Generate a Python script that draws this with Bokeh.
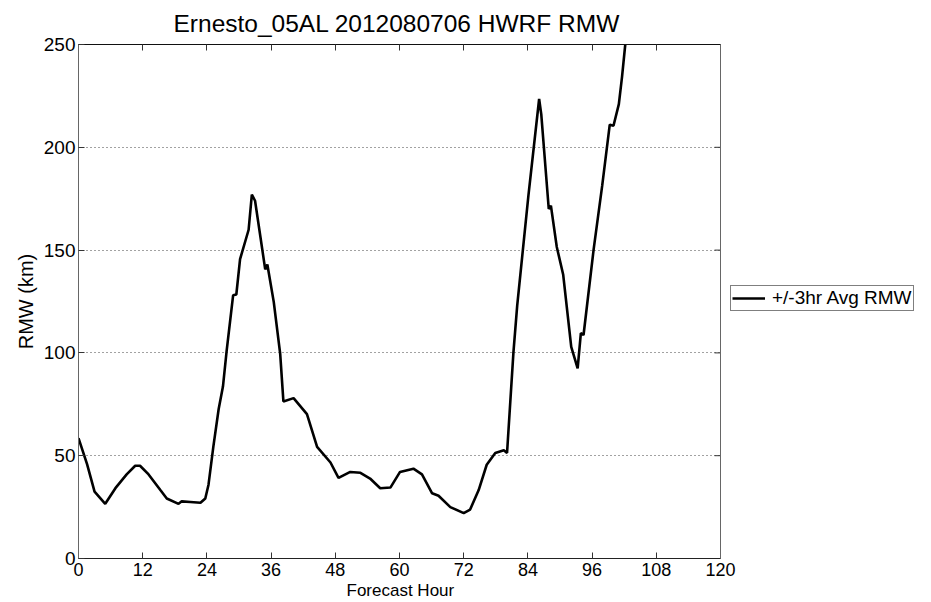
import math
from bokeh.plotting import figure
from bokeh.models import Range1d, LinearAxis, FixedTicker, Legend, LegendItem, Span, Title
from bokeh.embed import file_html
from bokeh.resources import INLINE

# Forecast hour and +/-3hr averaged RMW (km)
hours = [0, 1.6, 3.0, 5.0, 6.9, 9.0, 10.6, 11.5, 13.1, 15.3, 16.5, 18.7, 19.3, 20.9,
         22.8, 23.7, 24.3, 25.2, 26.2, 27.0, 27.7, 28.9, 29.5, 30.2, 31.8, 32.4, 33.0,
         34.0, 34.9, 35.3, 36.5, 37.7, 38.3, 40.2, 42.7, 44.6, 47.1, 48.6, 50.8, 52.7,
         54.5, 56.4, 58.3, 60.1, 62.6, 64.2, 66.1, 67.3, 69.5, 72.0, 73.2, 74.8, 76.3,
         77.9, 79.5, 80.1, 81.3, 82.0, 84.1, 86.1, 86.5, 87.9, 88.3, 89.4, 90.6, 92.1,
         93.3, 93.9, 94.4, 96.3, 97.9, 99.3, 100.0, 101.0, 101.6, 102.2, 103.0]
rmw = [58.5, 45.9, 32.5, 26.6, 34.2, 40.9, 45.1, 45.1, 40.9, 33.3, 29.2, 26.6, 27.8, 27.5,
       27.1, 29.2, 35.9, 54.3, 72.7, 83.6, 101.2, 128.0, 128.4, 145.6, 159.9, 177.0, 174.0,
       156.5, 140.6, 143.0, 124.7, 99.5, 76.4, 78.0, 70.2, 54.3, 46.7, 39.2, 42.1, 41.7,
       38.9, 34.2, 34.5, 42.1, 43.7, 40.9, 31.7, 30.5, 25.0, 22.1, 23.8, 33.3, 45.6,
       51.3, 52.6, 51.3, 100.4, 123.0, 176.6, 223.5, 216.0, 170.0, 171.6, 151.5, 138.0, 102.9,
       92.5, 109.6, 108.7, 150.6, 181.6, 211.0, 210.5, 221.0, 234.4, 250.0, 262.0]

x_ticks = [0, 12, 24, 36, 48, 60, 72, 84, 96, 108, 120]
y_ticks = [0, 50, 100, 150, 200, 250]
x_min, x_max = 0, 120
y_min, y_max = 0, 250

title_text = "Ernesto_05AL 2012080706 HWRF RMW"
x_label = "Forecast Hour"
y_label = "RMW (km)"
series_name = "+/-3hr Avg RMW"

SANS = "Liberation Sans"

# plot box is 642 px wide for 0..120; the frame continues to the right edge
# so that the legend can sit outside the axes box
BOX_W = 642
FRAME_W = 853
x_view_max = x_max * FRAME_W / BOX_W

p = figure(output_backend="svg", toolbar_location=None,
           frame_width=FRAME_W, frame_height=514,
           min_border_left=78, min_border_right=0,
           min_border_top=44, min_border_bottom=44,
           x_range=Range1d(x_min, x_view_max), y_range=Range1d(y_min, y_max),
           x_axis_location=None, y_axis_location=None)
p.outline_line_color = None
p.background_fill_color = "white"
p.border_fill_color = "white"

p.title.text = title_text
p.title.align = "left"
p.title.offset = 95
p.title.text_font = SANS
p.title.text_font_size = "24.5px"
p.title.text_font_style = "normal"
p.title.text_color = "black"
p.title.standoff = 15

def style_axis(ax, ticks, show_labels, line_color):
    ax.ticker = FixedTicker(ticks=ticks)
    ax.bounds = (ticks[0], ticks[-1])
    ax.major_tick_in = 6
    ax.major_tick_out = 0
    ax.minor_tick_in = 0
    ax.minor_tick_out = 0
    ax.axis_line_color = line_color
    ax.major_tick_line_color = "#333333"
    ax.major_label_text_font = SANS
    ax.major_label_text_font_size = "18px"
    ax.major_label_text_color = "black"
    ax.axis_label_text_font = SANS
    ax.axis_label_text_font_size = "18px"
    ax.axis_label_text_font_style = "normal"
    ax.axis_label_text_color = "black"
    if not show_labels:
        ax.major_label_overrides = {t: "" for t in ticks}
        ax.major_label_standoff = 0
        ax.major_label_text_font_size = "8px"

bottom = LinearAxis()
style_axis(bottom, x_ticks, True, "#222222")
bottom.major_label_standoff = 4
p.add_layout(bottom, "below")

# x-axis label, centred under the 0..120 box
p.add_layout(Title(text=x_label, align="left", offset=268, standoff=0,
                   text_font=SANS, text_font_size="17px", text_font_style="normal",
                   text_color="black"), "below")

left = LinearAxis(axis_label=y_label)
style_axis(left, y_ticks, True, "#666666")
left.major_label_text_font_size = "19px"
left.major_label_standoff = 3
left.axis_label_standoff = 4
left.axis_label_text_font_size = "20px"
p.add_layout(left, "left")

top = LinearAxis()
style_axis(top, x_ticks, False, "#111111")
p.add_layout(top, "above")

# right edge of the axes box and its inward ticks
p.add_layout(Span(location=x_max, dimension="height", line_color="#666666", line_width=1))
p.ray(x=[x_max] * len(y_ticks), y=y_ticks, length=6, angle=math.pi,
      length_units="screen", line_color="#333333", line_width=1)

p.xgrid.visible = False
p.ygrid.ticker = FixedTicker(ticks=y_ticks[1:-1])
p.ygrid.cross_bounds = (x_min, x_max)
p.ygrid.grid_line_color = "#444444"
p.ygrid.grid_line_dash = "1 3"
p.ygrid.grid_line_width = 1

line = p.line(hours, rmw, line_color="black", line_width=2.6)

legend = Legend(items=[LegendItem(label=series_name, renderers=[line])],
                location=(652, 247))
legend.border_line_color = "black"
legend.border_line_width = 1
legend.padding = 1
legend.margin = 0
legend.spacing = 0
legend.glyph_width = 33
legend.glyph_height = 16
legend.label_height = 16
legend.label_standoff = 7
legend.label_text_font = SANS
legend.label_text_font_size = "19px"
legend.label_text_color = "black"
legend.background_fill_alpha = 1
p.add_layout(legend, "center")

open("out.html", "w").write(file_html(p, INLINE))
